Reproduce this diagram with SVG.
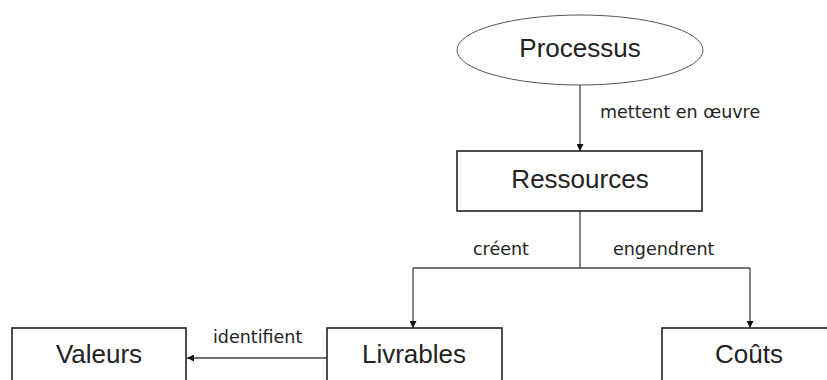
<svg xmlns="http://www.w3.org/2000/svg" width="827" height="380" viewBox="0 0 827 380">
<defs>
<style>
.box{fill:#fff;stroke:#222;stroke-width:1.6}
.ell{fill:#fff;stroke:#555;stroke-width:1}
.t{font-family:"Liberation Sans",Arial,sans-serif;font-size:26px;fill:#222;text-anchor:middle}
.lbl{font-family:"DejaVu Sans",Verdana,sans-serif;font-size:17.5px;fill:#222}
.c{fill:none;stroke:#444;stroke-width:1.3}
</style>
<marker id="ah" viewBox="0 0 10 10" refX="10" refY="5" markerWidth="7" markerHeight="7" markerUnits="userSpaceOnUse" orient="auto">
<path d="M0,0 L10,5 L0,10 z" fill="#111"/>
</marker>
</defs>
<rect width="827" height="380" fill="#fff"/>
<g id="connectors">
<line class="c" x1="580" y1="85" x2="580" y2="151" marker-end="url(#ah)"/>
<polyline class="c" points="580,211 580,268"/>
<polyline class="c" points="413,268 750,268"/>
<line class="c" x1="413" y1="268" x2="413" y2="328" marker-end="url(#ah)"/>
<line class="c" x1="750" y1="268" x2="750" y2="328" marker-end="url(#ah)"/>
<line class="c" x1="327" y1="358" x2="187" y2="358" marker-end="url(#ah)"/>
<text class="lbl" x="600" y="118">mettent en œuvre</text>
<text class="lbl" x="473" y="255">créent</text>
<text class="lbl" x="613" y="255">engendrent</text>
<text class="lbl" x="213" y="343">identifient</text>
</g>
<g id="processus">
<ellipse class="ell" cx="580" cy="50" rx="123" ry="35"/>
<text class="t" x="580" y="57">Processus</text>
</g>
<g id="ressources">
<rect class="box" x="457" y="151" width="245" height="60"/>
<text class="t" x="580" y="188">Ressources</text>
</g>
<g id="valeurs">
<rect class="box" x="12" y="328" width="174" height="70"/>
<text class="t" x="99" y="363">Valeurs</text>
</g>
<g id="livrables">
<rect class="box" x="327" y="328" width="175" height="70"/>
<text class="t" x="414" y="363">Livrables</text>
</g>
<g id="couts">
<rect class="box" x="662" y="328" width="180" height="70"/>
<text class="t" x="749" y="363">Coûts</text>
</g>
</svg>
